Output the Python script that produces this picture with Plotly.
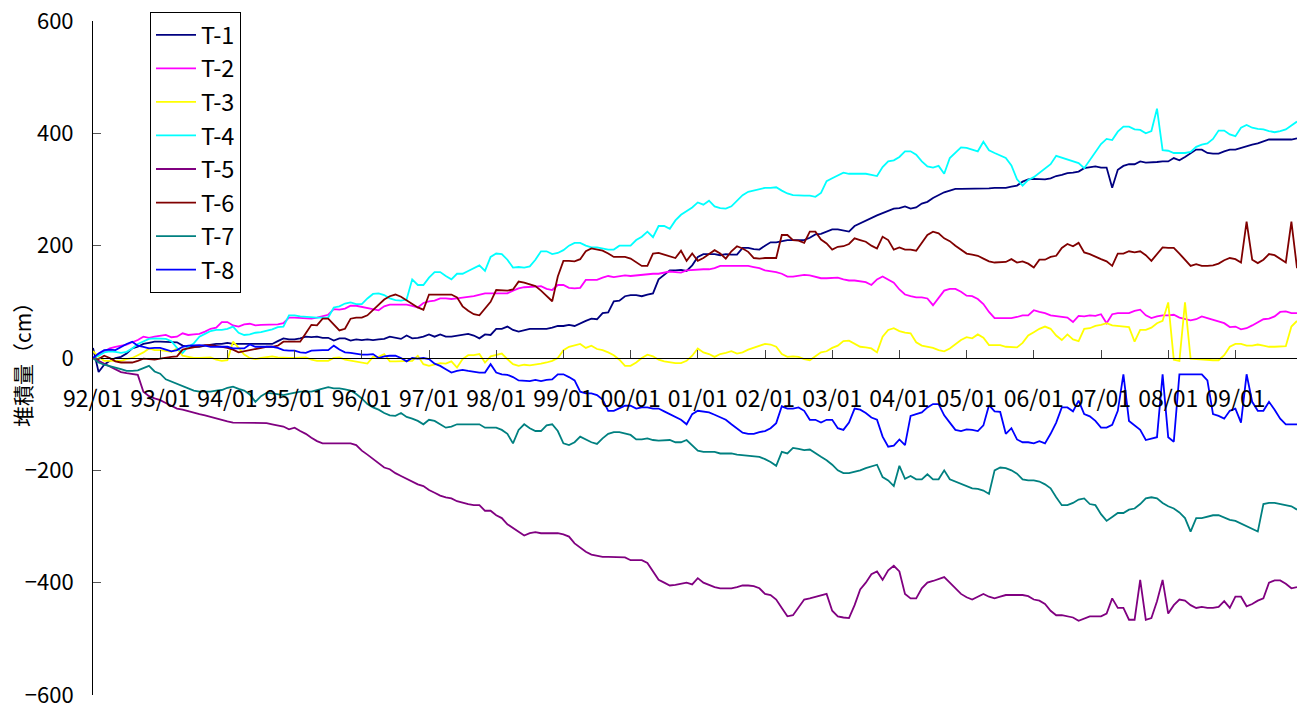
import plotly.graph_objects as go

# Monthly survey dates, 1992/01 .. 2009/12 (one value per month)
years = [f"{y % 100:02d}" for y in range(1992, 2010)]
months = list(range(216))
tick_vals = list(range(0, 216, 12))
tick_text = [f"{y}/01" for y in years]

series_names = ["T-1", "T-2", "T-3", "T-4", "T-5", "T-6", "T-7", "T-8"]
series_colors = ["#000080", "#FF00FF", "#FFFF00", "#00FFFF",
                 "#800080", "#800000", "#008080", "#0000FF"]

# Accumulated deposit (cm) per survey point
t1 = [18, -25, -12, -5, 0, 2, 8, 17, 20, 25, 27, 29,
      29, 29, 29, 28, 22, 20, 20, 20, 22, 24, 25, 25,
      27, 25, 25, 25, 25, 25, 25, 25, 25, 30, 35, 33,
      33, 35, 38, 37, 38, 36, 36, 31, 35, 35, 31, 33,
      32, 33, 32, 33, 34, 38, 36, 34, 40, 35, 36, 38,
      42, 38, 42, 38, 38, 40, 41, 43, 40, 35, 42, 41,
      52, 52, 56, 50, 47, 50, 52, 52, 52, 52, 54, 57,
      57, 59, 57, 62, 66, 70, 69, 80, 81, 101, 102, 110,
      112, 112, 110, 113, 115, 140, 148, 156, 156, 157, 155, 165,
      180, 185, 185, 185, 183, 185, 184, 184, 196, 196, 194, 193,
      200, 206, 206, 208, 210, 210, 210, 210, 214, 220, 221, 225,
      229, 229, 227, 225, 235, 240, 245, 250, 254, 258, 262, 266,
      267, 270, 266, 268, 275, 278, 285, 290, 295, 298, 301, 301,
      301, 302, 301, 301, 302, 303, 303, 303, 305, 307, 314, 318,
      319, 319, 318, 320, 324, 326, 329, 330, 332, 338, 340, 341,
      339, 339, 303, 335, 342, 345, 345, 350, 348, 348, 349, 350,
      350, 356, 352, 358, 365, 371, 371, 365, 364, 364, 368, 371,
      371, 374, 378, 380, 382, 385, 389, 389, 389, 388, 389, 391]

t2 = [0, 6, 12, 17, 20, 22, 24, 28, 32, 38, 36, 38,
      39, 41, 37, 38, 44, 41, 42, 43, 47, 52, 54, 64,
      64, 58, 56, 60, 61, 58, 59, 59, 59, 60, 62, 72,
      72, 71, 70, 70, 72, 75, 77, 87, 86, 88, 93, 93,
      91, 88, 86, 85, 92, 95, 95, 95, 95, 93, 90, 98,
      101, 102, 106, 106, 105, 106, 108, 109, 110, 113, 115, 115,
      115, 115, 115, 120, 124, 126, 126, 127, 128, 123, 121, 130,
      130, 125, 124, 125, 139, 139, 139, 143, 146, 144, 146, 147,
      146, 147, 148, 150, 150, 150, 152, 154, 153, 152, 156, 157,
      158, 158, 158, 160, 164, 164, 164, 164, 164, 164, 162, 160,
      156, 155, 153, 150, 145, 145, 146, 148, 147, 144, 142, 142,
      143, 143, 140, 138, 138, 137, 135, 130, 140, 145, 140, 134,
      122, 113, 110, 108, 108, 106, 94, 108, 120, 123, 123, 118,
      111, 110, 105, 96, 82, 71, 71, 71, 71, 73, 76, 76,
      85, 82, 80, 76, 75, 73, 72, 64, 75, 74, 76, 75,
      78, 62, 78, 80, 80, 80, 84, 86, 76, 71, 74, 76,
      76, 77, 72, 69, 67, 69, 74, 71, 68, 66, 62, 55,
      56, 51, 53, 58, 64, 69, 70, 74, 82, 83, 80, 80]

t3 = [12, 2, -5, -5, -5, -5, -2, 0, 5, 10, 17, 14,
      14, 12, 11, 17, 4, 2, 0, 0, 1, 1, -3, -5,
      -4, 29, 18, 6, 0, -2, 0, 2, 3, 1, 0, 0,
      0, 1, 1, -3, -5, -5, -5, 0, 1, -3, -5, -7,
      -9, -10, 2, 2, 7, -6, -6, -6, -5, -5, 4, -11,
      -14, -11, -9, -10, -6, -17, -2, 5, 5, 7, -8, 3,
      5, 8, -2, -11, -14, -12, -13, -12, -10, -8, -5, 0,
      14, 20, 22, 25, 18, 22, 16, 14, 10, 5, -3, -14,
      -14, -8, 0, 6, 3, -3, -6, -8, -9, -9, -5, 4,
      17, 10, 7, 2, 7, 9, 12, 8, 10, 15, 18, 21,
      25, 24, 20, 7, 2, 3, 2, -2, -4, 3, 10, 12,
      18, 22, 30, 31, 25, 20, 19, 17, 10, 38, 50, 53,
      48, 45, 44, 28, 22, 20, 18, 14, 12, 17, 25, 32,
      37, 35, 42, 36, 23, 23, 23, 20, 20, 19, 27, 40,
      46, 52, 56, 52, 40, 32, 42, 33, 30, 52, 53, 57,
      59, 62, 58, 57, 55, 55, 29, 50, 50, 54, 62, 66,
      99, -3, -5, 99, -1, -2, -3, -3, -4, -4, 5, 20,
      25, 25, 22, 22, 24, 22, 20, 20, 21, 21, 56, 66]

t4 = [0, 4, 10, 12, 11, 9, 11, 17, 25, 29, 34, 35,
      35, 34, 30, 18, 9, 20, 26, 38, 43, 48, 50, 50,
      52, 56, 45, 41, 42, 45, 46, 48, 51, 55, 56, 76,
      76, 74, 73, 72, 72, 72, 72, 90, 92, 97, 99, 96,
      96, 106, 114, 115, 112, 106, 103, 102, 104, 140, 130, 130,
      143, 153, 153, 146, 140, 150, 150, 155, 160, 165, 155, 180,
      186, 185, 175, 161, 162, 161, 163, 175, 190, 190, 185, 187,
      192, 200, 205, 205, 200, 197, 197, 195, 193, 193, 200, 200,
      200, 210, 216, 225, 215, 235, 235, 230, 245, 255, 262, 268,
      277, 273, 280, 270, 267, 266, 270, 280, 290, 296, 298, 300,
      303, 303, 304, 298, 293, 290, 289, 289, 289, 287, 294, 315,
      320, 325, 330, 328, 328, 328, 328, 326, 324, 340, 350, 352,
      358, 368, 368, 362, 350, 341, 339, 342, 328, 356, 365, 375,
      374, 371, 368, 385, 370, 365, 361, 356, 343, 318, 307, 317,
      322, 330, 338, 345, 360, 357, 353, 350, 347, 338, 353, 367,
      381, 390, 388, 403, 412, 412, 407, 406, 400, 404, 444, 370,
      369, 365, 365, 365, 367, 376, 380, 382, 390, 405, 405, 398,
      395, 410, 415, 410, 408, 407, 404, 402, 404, 407, 414, 421]

t5 = [0, -5, -10, -15, -20, -25, -27, -28, -30, -60, -68, -72,
      -75, -80, -85, -90, -92, -95, -98, -100, -102, -105, -108, -110,
      -113, -115, -115, -115, -115, -115, -116, -116, -118, -120, -122, -127,
      -124, -130, -135, -142, -148, -152, -152, -152, -152, -152, -152, -155,
      -165, -172, -180, -188, -195, -198, -205, -210, -215, -220, -225, -228,
      -235, -240, -245, -248, -250, -255, -258, -260, -262, -262, -272, -272,
      -280, -285, -296, -303, -310, -316, -312, -310, -312, -312, -312, -312,
      -314, -318, -330, -338, -345, -350, -352, -354, -354, -354, -354, -355,
      -360, -360, -360, -365, -380, -395, -400, -405, -404, -402, -400, -403,
      -392, -400, -404, -408, -410, -410, -410, -408, -405, -405, -406, -410,
      -420, -422, -430, -445, -460, -458, -445, -430, -428, -425, -422, -420,
      -450, -460, -462, -463, -440, -412, -400, -385, -380, -395, -378, -370,
      -380, -420, -428, -428, -410, -400, -397, -393, -390, -400, -410, -420,
      -426, -430, -425, -420, -425, -428, -425, -422, -422, -422, -422, -424,
      -430, -432, -438, -450, -458, -458, -460, -462, -468, -464, -460, -460,
      -460, -455, -428, -445, -445, -466, -466, -395, -466, -463, -433, -395,
      -455, -440, -430, -432, -440, -445, -443, -445, -445, -443, -433, -445,
      -425, -425, -442, -438, -432, -428, -400, -396, -396, -402, -410, -408]

t6 = [0, -2, 4, 0, -6, -8, -8, -8, -5, -1, -2, -3,
      -1, 1, 2, 3, 15, 17, 19, 21, 23, 23, 22, 20,
      18, 15, 10, 12, 14, 16, 18, 20, 20, 22, 29, 29,
      29, 29, 44, 59, 58, 70, 70, 60, 49, 52, 70, 72,
      72, 76, 85, 95, 104, 110, 113, 109, 103, 96, 90, 86,
      113, 113, 113, 113, 113, 108, 92, 84, 78, 76, 88, 100,
      121, 121, 120, 122, 136, 134, 131, 128, 120, 110, 101, 145,
      173, 173, 172, 176, 190, 195, 193, 191, 186, 180, 180, 180,
      177, 170, 164, 164, 186, 187, 184, 180, 178, 191, 173, 186,
      173, 178, 185, 192, 186, 177, 190, 199, 195, 189, 178, 177,
      178, 178, 178, 219, 219, 210, 209, 205, 225, 225, 211, 204,
      193, 198, 199, 203, 213, 210, 207, 200, 195, 216, 210, 193,
      197, 193, 193, 191, 205, 219, 225, 222, 213, 208, 200, 193,
      186, 184, 182, 177, 172, 170, 170, 171, 176, 170, 172, 168,
      161, 175, 175, 180, 182, 196, 203, 199, 205, 188, 185, 180,
      176, 172, 164, 186, 186, 190, 188, 190, 183, 173, 185, 197,
      196, 196, 186, 175, 164, 167, 164, 164, 165, 168, 174, 178,
      176, 170, 243, 175, 169, 175, 185, 183, 177, 170, 243, 160]

t7 = [0, -8, -12, -14, -17, -20, -23, -23, -22, -18, -14, -24,
      -28, -38, -42, -46, -50, -55, -58, -60, -60, -60, -58, -57,
      -53, -51, -55, -58, -65, -78, -68, -62, -63, -65, -66, -64,
      -62, -60, -60, -60, -57, -54, -52, -54, -54, -56, -58, -64,
      -72, -82, -88, -92, -98, -102, -103, -98, -105, -108, -112, -118,
      -110, -112, -118, -124, -122, -118, -118, -118, -118, -118, -124, -124,
      -124, -128, -135, -152, -128, -118, -125, -130, -130, -120, -118, -130,
      -152, -155, -150, -140, -145, -150, -153, -143, -135, -132, -132, -134,
      -137, -145, -145, -143, -146, -147, -146, -146, -150, -150, -146, -155,
      -165, -167, -167, -167, -170, -170, -170, -172, -173, -174, -175, -176,
      -180, -185, -192, -167, -170, -160, -162, -164, -163, -170, -176, -182,
      -190, -200, -205, -205, -203, -200, -196, -193, -190, -212, -218, -228,
      -192, -215, -210, -216, -216, -207, -216, -216, -200, -216, -220, -225,
      -228, -232, -233, -236, -242, -200, -195, -196, -200, -206, -216, -218,
      -218, -220, -225, -232, -248, -262, -262, -258, -252, -250, -260, -262,
      -278, -290, -283, -276, -276, -270, -268, -260, -250, -248, -250, -258,
      -264, -268, -275, -285, -309, -285, -285, -282, -280, -280, -284, -288,
      -290, -295, -300, -305, -309, -260, -258, -258, -260, -262, -264, -270]

t8 = [0, 8, 14, 15, 14, 20, 25, 29, 22, 20, 17, 18,
      18, 15, 12, 14, 20, 22, 23, 23, 22, 20, 20, 20,
      20, 17, 17, 17, 24, 20, 20, 20, 20, 18, 14, 13,
      13, 10, 9, 13, 14, 14, 14, 22, 15, 10, 9, 7,
      6, 6, 7, 0, 3, 4, 4, 0, -6, 0, -1, 0,
      -2, -10, -14, -20, -26, -23, -21, -23, -25, -26, -26, -11,
      -26, -29, -30, -34, -40, -41, -41, -39, -41, -39, -38, -29,
      -29, -34, -40, -60, -63, -63, -66, -74, -94, -94, -90, -85,
      -85, -90, -88, -88, -90, -90, -95, -100, -105, -110, -118, -100,
      -94, -95, -97, -101, -105, -110, -118, -125, -133, -135, -135, -132,
      -130, -125, -116, -86, -90, -90, -88, -94, -110, -110, -115, -110,
      -110, -125, -128, -115, -90, -92, -98, -106, -110, -140, -158, -156,
      -145, -155, -103, -100, -97, -88, -82, -82, -102, -115, -128, -130,
      -127, -128, -130, -120, -84, -95, -96, -135, -125, -145, -150, -150,
      -152, -148, -152, -135, -115, -88, -88, -95, -76, -100, -104, -112,
      -124, -124, -119, -94, -29, -112, -120, -128, -146, -144, -141, -29,
      -141, -149, -29, -29, -29, -29, -29, -40, -100, -103, -108, -94,
      -90, -115, -29, -78, -94, -94, -78, -92, -108, -118, -118, -118]

all_series = [t1, t2, t3, t4, t5, t6, t7, t8]

FONT = "Noto Sans CJK JP"

fig = go.Figure()
for name, color, vals in zip(series_names, series_colors, all_series):
    fig.add_trace(go.Scatter(
        x=months, y=vals, name=name, mode="lines",
        line=dict(color=color, width=1.8),
    ))

fig.update_layout(
    width=1297, height=710,
    margin=dict(l=93, r=0, t=21, b=15),
    paper_bgcolor="white", plot_bgcolor="white",
    font=dict(family=FONT, color="black", size=22),
    showlegend=True,
    legend=dict(
        x=(150 - 93) / 1204, y=(695 - 12) / 674,
        xanchor="left", yanchor="top",
        bgcolor="white", bordercolor="black", borderwidth=1,
        font=dict(family=FONT, size=23.5, color="black"),
        tracegroupgap=0,
        itemwidth=40,
    ),
    xaxis=dict(
        range=[0, 215],
        tickmode="array", tickvals=tick_vals, ticktext=tick_text,
        tickangle=0,
        anchor="free", position=0.5,
        showline=True, linecolor="black", linewidth=1,
        ticks="inside", ticklen=8, tickcolor="#444444", tickwidth=1,
        ticklabelstandoff=20,
        showgrid=False, zeroline=False,
        tickfont=dict(family=FONT, size=23, color="black"),
    ),
    yaxis=dict(
        range=[-600, 600],
        tickmode="array", tickvals=[-600, -400, -200, 0, 200, 400, 600],
        showline=True, linecolor="black", linewidth=1,
        ticks="inside", ticklen=8, tickcolor="#555555", tickwidth=1,
        ticklabelstandoff=14,
        showgrid=False, zeroline=False,
        tickfont=dict(family=FONT, size=22, color="black"),
    ),
    annotations=[dict(
        text="堆積量（cm）", textangle=-90,
        xref="paper", yref="paper", x=0, y=(695 - 360) / 674,
        xanchor="center", yanchor="middle", xshift=-71,
        showarrow=False,
        font=dict(family=FONT, size=21, color="black"),
    )],
)

fig.write_html("out.html")
